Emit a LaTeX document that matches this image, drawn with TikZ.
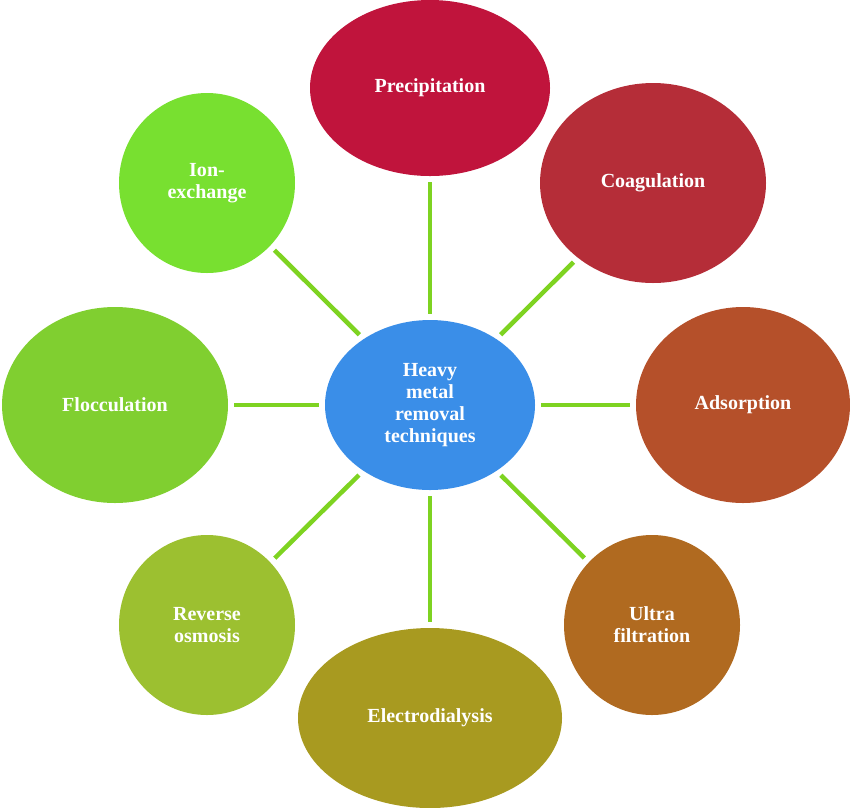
\documentclass[tikz,border=0pt]{standalone}
\usepackage{fontspec}
\setmainfont{Liberation Serif}
\usetikzlibrary{shapes.geometric}
\definecolor{cprec}{HTML}{C0143C}
\definecolor{ccoag}{HTML}{B52D38}
\definecolor{cads}{HTML}{B5502A}
\definecolor{cultra}{HTML}{B06A20}
\definecolor{celec}{HTML}{A89A20}
\definecolor{crev}{HTML}{9CC030}
\definecolor{cfloc}{HTML}{80CF30}
\definecolor{cion}{HTML}{78E030}
\definecolor{ccent}{HTML}{3A8EE8}
\definecolor{clink}{HTML}{7ED321}
\tikzset{
  blob/.style={ellipse,inner sep=0pt,text=white,font=\fontsize{20}{22}\selectfont\bfseries,align=center},
  link/.style={clink,line width=4.5pt,shorten <=6pt,shorten >=6pt}
}
\begin{document}
\begin{tikzpicture}[x=1pt,y=-1pt]
	\useasboundingbox (0,0) rectangle (850,807);
	\node[blob,fill=ccent,minimum width=210pt,minimum height=170pt] (hm) at (430,405) {Heavy\\metal\\removal\\techniques};
	
	\node[blob,fill=cprec,minimum width=240pt,minimum height=176pt] (prec) at (430,88) {Precipitation};
	\node[blob,fill=ccoag,minimum width=226pt,minimum height=200pt] (coag) at (653,183) {Coagulation};
	\node[blob,fill=cads,minimum width=214pt,minimum height=196pt] (ads) at (743,405) {Adsorption};
	\node[blob,fill=cultra,minimum width=176pt,minimum height=180pt] (ultra) at (652,625) {Ultra\\filtration};
	\node[blob,fill=celec,minimum width=264pt,minimum height=180pt] (elec) at (430,718) {Electrodialysis};
	\node[blob,fill=crev,minimum width=176pt,minimum height=180pt] (rev) at (207,625) {Reverse\\osmosis};
	\node[blob,fill=cfloc,minimum width=226pt,minimum height=196pt] (floc) at (115,405) {Flocculation};
	\node[blob,fill=cion,minimum width=176pt,minimum height=180pt] (ion) at (207,183) {Ion-\\exchange};
	
	\draw[link] (hm) -- (prec);
	\draw[link] (hm) -- (coag);
	\draw[link] (hm) -- (ads);
	\draw[link] (hm) -- (ultra);
	\draw[link] (hm) -- (elec);
	\draw[link] (hm) -- (rev);
	\draw[link] (hm) -- (floc);
	\draw[link] (hm) -- (ion);
\end{tikzpicture}
\end{document}
